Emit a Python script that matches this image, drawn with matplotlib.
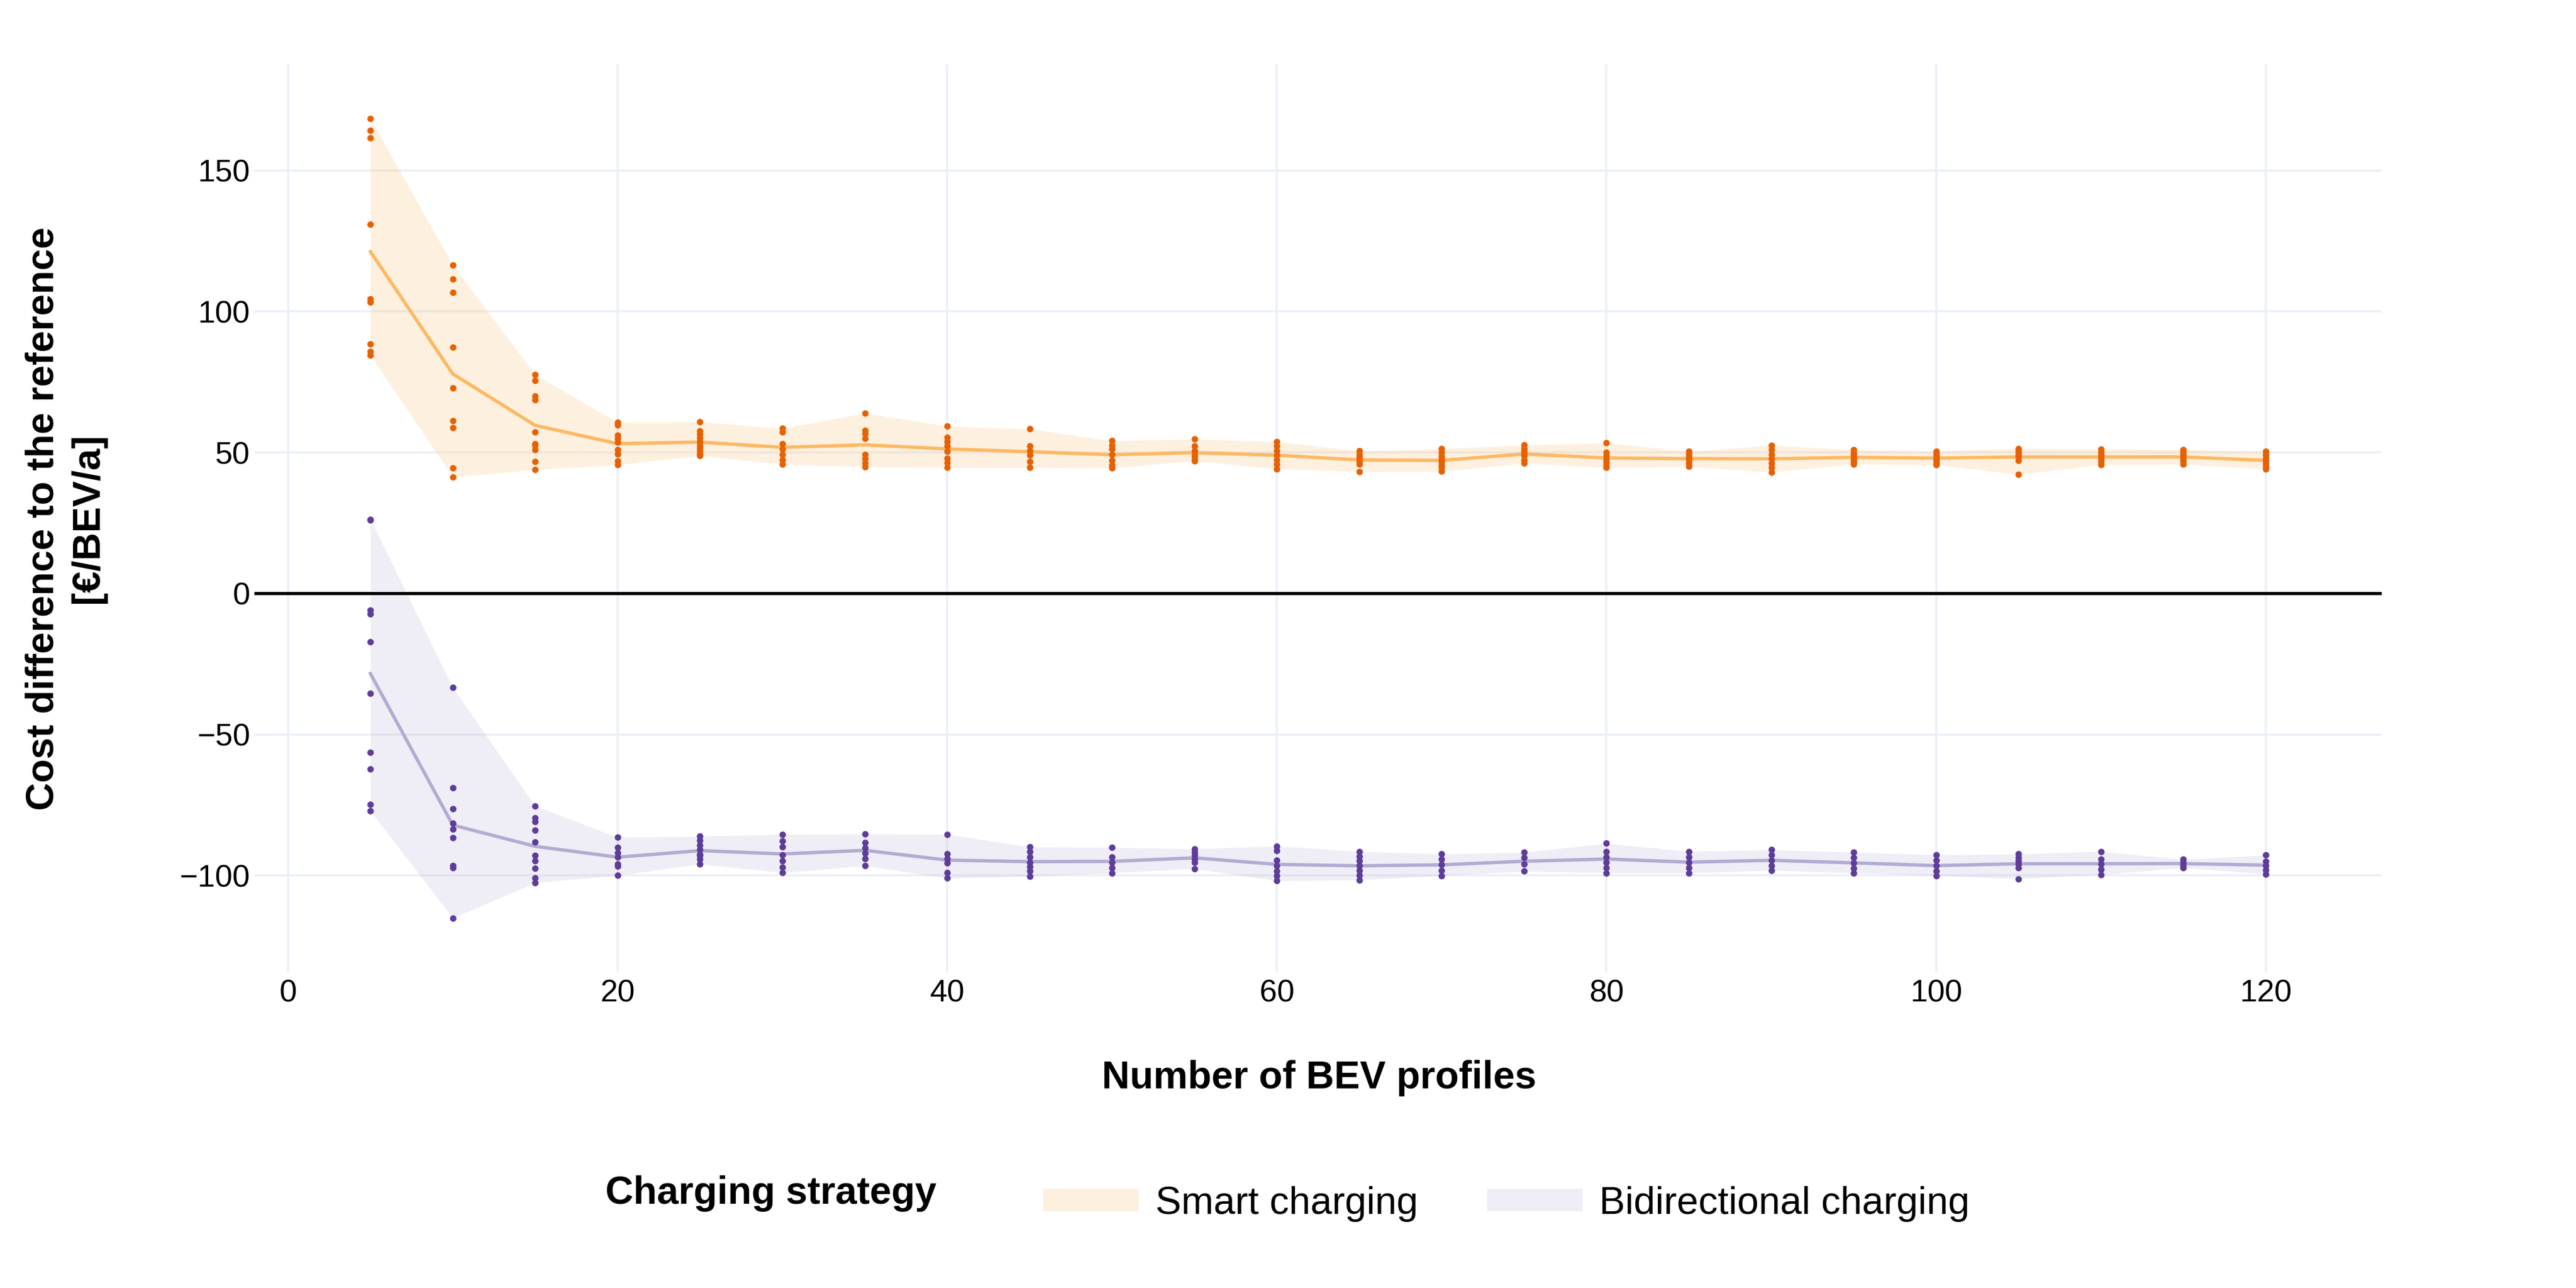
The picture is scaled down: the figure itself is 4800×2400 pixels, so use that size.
import numpy as np
import matplotlib
matplotlib.use('Agg')
import matplotlib.pyplot as plt
from matplotlib.patches import Patch

plt.rcParams['font.family'] = ['Liberation Sans', 'DejaVu Sans']

# Anzahl der BEV-Profile
n_profiles = [5, 10, 15, 20, 25, 30, 35, 40, 45, 50, 55, 60,
              65, 70, 75, 80, 85, 90, 95, 100, 105, 110, 115, 120]

# Kostendifferenz je Stichprobe, Smart charging
smart_points = [
    [168.3, 164.2, 161.6, 130.8, 104.4, 103.2, 88.4, 85.7, 84.4],
    [116.4, 111.5, 106.7, 87.3, 72.9, 61.3, 58.7, 44.4, 41.3],
    [77.6, 75.6, 69.9, 68.6, 57.2, 53.1, 52.4, 50.9, 46.7, 43.9],
    [60.7, 59.7, 56.1, 54.9, 53.7, 51.0, 49.5, 46.9, 45.6],
    [60.8, 57.6, 56.4, 55.1, 53.8, 52.5, 51.6, 50.6, 49.4, 48.8],
    [58.5, 57.3, 53.1, 51.2, 49.3, 47.4, 45.8],
    [63.9, 57.9, 56.6, 55.0, 49.3, 47.7, 46.2, 44.9],
    [59.3, 55.4, 53.8, 52.2, 50.3, 48.0, 46.4, 44.6],
    [58.3, 52.2, 50.6, 49.0, 46.8, 44.6],
    [54.1, 52.5, 51.2, 49.3, 47.1, 45.5, 44.5],
    [54.7, 52.2, 50.5, 49.3, 48.5, 47.5, 47.0],
    [53.8, 52.2, 50.6, 49.0, 47.4, 45.8, 44.2],
    [50.5, 49.3, 48.4, 47.5, 46.6, 45.8, 43.2],
    [51.3, 50.0, 48.7, 47.5, 46.5, 45.5, 44.6, 43.3],
    [52.6, 51.4, 50.3, 49.5, 48.8, 47.3, 46.2],
    [53.4, 50.0, 48.8, 47.6, 46.5, 45.4, 44.6],
    [50.3, 49.5, 48.7, 47.9, 47.1, 46.2, 45.0],
    [52.5, 50.9, 49.3, 47.7, 46.2, 44.6, 43.0],
    [50.9, 49.9, 49.0, 48.2, 47.4, 46.6, 45.8],
    [50.4, 49.6, 48.8, 48.0, 47.2, 46.4, 45.6],
    [51.4, 50.7, 49.9, 49.1, 48.3, 47.2, 42.2],
    [51.2, 50.2, 49.2, 48.4, 47.6, 46.6, 45.6],
    [51.0, 50.1, 49.2, 48.4, 47.6, 46.8, 45.8],
    [50.3, 49.2, 48.1, 47.1, 46.1, 45.1, 44.2],
]

# Kostendifferenz je Stichprobe, Bidirectional charging
bidi_points = [
    [26.3, 26.0, -6.0, -7.3, -17.1, -35.5, -56.4, -62.3, -74.9, -77.1],
    [-33.4, -68.9, -76.4, -81.5, -83.6, -86.7, -96.5, -97.2, -115.1],
    [-75.4, -79.6, -81.0, -83.9, -88.1, -92.9, -94.8, -97.5, -101.0, -102.6],
    [-86.5, -90.0, -91.9, -93.5, -96.0, -96.8, -100.0],
    [-86.1, -87.6, -89.3, -90.8, -92.5, -93.0, -94.3, -96.0],
    [-85.4, -87.7, -89.9, -92.7, -94.9, -97.1, -99.0],
    [-85.3, -88.3, -90.2, -92.1, -94.1, -96.6],
    [-85.4, -92.4, -94.0, -95.6, -99.0, -101.0],
    [-89.9, -91.5, -93.4, -95.3, -96.9, -98.5, -100.3],
    [-90.1, -93.4, -95.3, -97.2, -99.1],
    [-90.6, -91.8, -93.0, -94.2, -95.4, -97.6],
    [-89.6, -91.2, -94.7, -96.6, -98.5, -100.1, -101.9],
    [-91.5, -93.2, -94.9, -96.6, -98.3, -100.0, -101.6],
    [-92.4, -94.3, -96.2, -98.2, -100.1],
    [-91.8, -93.7, -95.9, -98.5],
    [-88.6, -91.5, -93.4, -95.3, -97.2, -99.1],
    [-91.5, -93.4, -95.3, -97.2, -99.1],
    [-90.9, -92.8, -94.7, -96.6, -98.2],
    [-91.8, -93.7, -95.6, -97.5, -99.1],
    [-92.7, -94.7, -96.6, -98.5, -100.1],
    [-92.4, -93.6, -94.8, -96.0, -97.2, -101.2],
    [-91.5, -94.3, -95.9, -97.8, -99.7],
    [-94.3, -95.3, -96.3, -97.3],
    [-92.8, -95.0, -96.5, -98.0, -99.5],
]

strategies = ['Smart charging', 'Bidirectional charging']
dot_colors = ['#e66101', '#5e3c99']
line_colors = ['#fdb863', '#b2abd2']

fig = plt.figure(figsize=(16, 8), dpi=300)
ax = fig.add_axes([0.09875, 0.245, 0.82585, 0.705])

handles = []
for points, dc, lc, name in zip([smart_points, bidi_points], dot_colors, line_colors, strategies):
    lo = [min(p) for p in points]
    hi = [max(p) for p in points]
    mean = [np.mean(p) for p in points]
    ax.fill_between(n_profiles, lo, hi, color=lc, alpha=0.2, linewidth=0, zorder=2)
    ax.plot(n_profiles, mean, color=lc, linewidth=1.5, zorder=3)
    xs = [x for x, p in zip(n_profiles, points) for _ in p]
    ys = [v for p in points for v in p]
    ax.plot(xs, ys, 'o', color=dc, markersize=2.9, markeredgewidth=0, zorder=4)
    handles.append(Patch(facecolor=lc, alpha=0.2, edgecolor='none', label=name))

ax.axhline(0, color='black', linewidth=1.4, zorder=2.5)

ax.set_xlim(-2.04, 127.04)
ax.set_ylim(-134.4, 187.6)
ax.set_xticks(range(0, 121, 20))
ax.set_yticks([-100, -50, 0, 50, 100, 150])
ax.set_yticklabels(['\u2212100', '\u221250', '0', '50', '100', '150'])
ax.grid(True, color='#ebf0f8', linewidth=1.0, zorder=0)
ax.set_axisbelow(True)
for s in ax.spines.values():
    s.set_visible(False)
ax.tick_params(length=0, labelsize=14)
ax.tick_params(axis='x', pad=3)
ax.tick_params(axis='y', pad=2)

fig.text(0.512, 0.155, 'Number of BEV profiles', ha='center', va='baseline',
         fontsize=17.3, fontweight='bold')
fig.text(0.0255, 0.5975, 'Cost difference to the reference\n[\u20ac/BEV/a]',
         rotation=90, ha='center', va='center', multialignment='center',
         fontsize=17.3, fontweight='bold', linespacing=1.3)

fig.text(0.2351, 0.0654, 'Charging strategy', ha='left', va='baseline',
         fontsize=17.3, fontweight='bold')
fig.legend(handles=handles, loc='center left', bbox_to_anchor=(0.405, 0.0654),
           ncol=2, frameon=False, fontsize=17.3, borderpad=0, borderaxespad=0,
           handlelength=2.47, handleheight=0.51, handletextpad=0.43,
           columnspacing=1.79)

fig.savefig('out.png', dpi=300)
